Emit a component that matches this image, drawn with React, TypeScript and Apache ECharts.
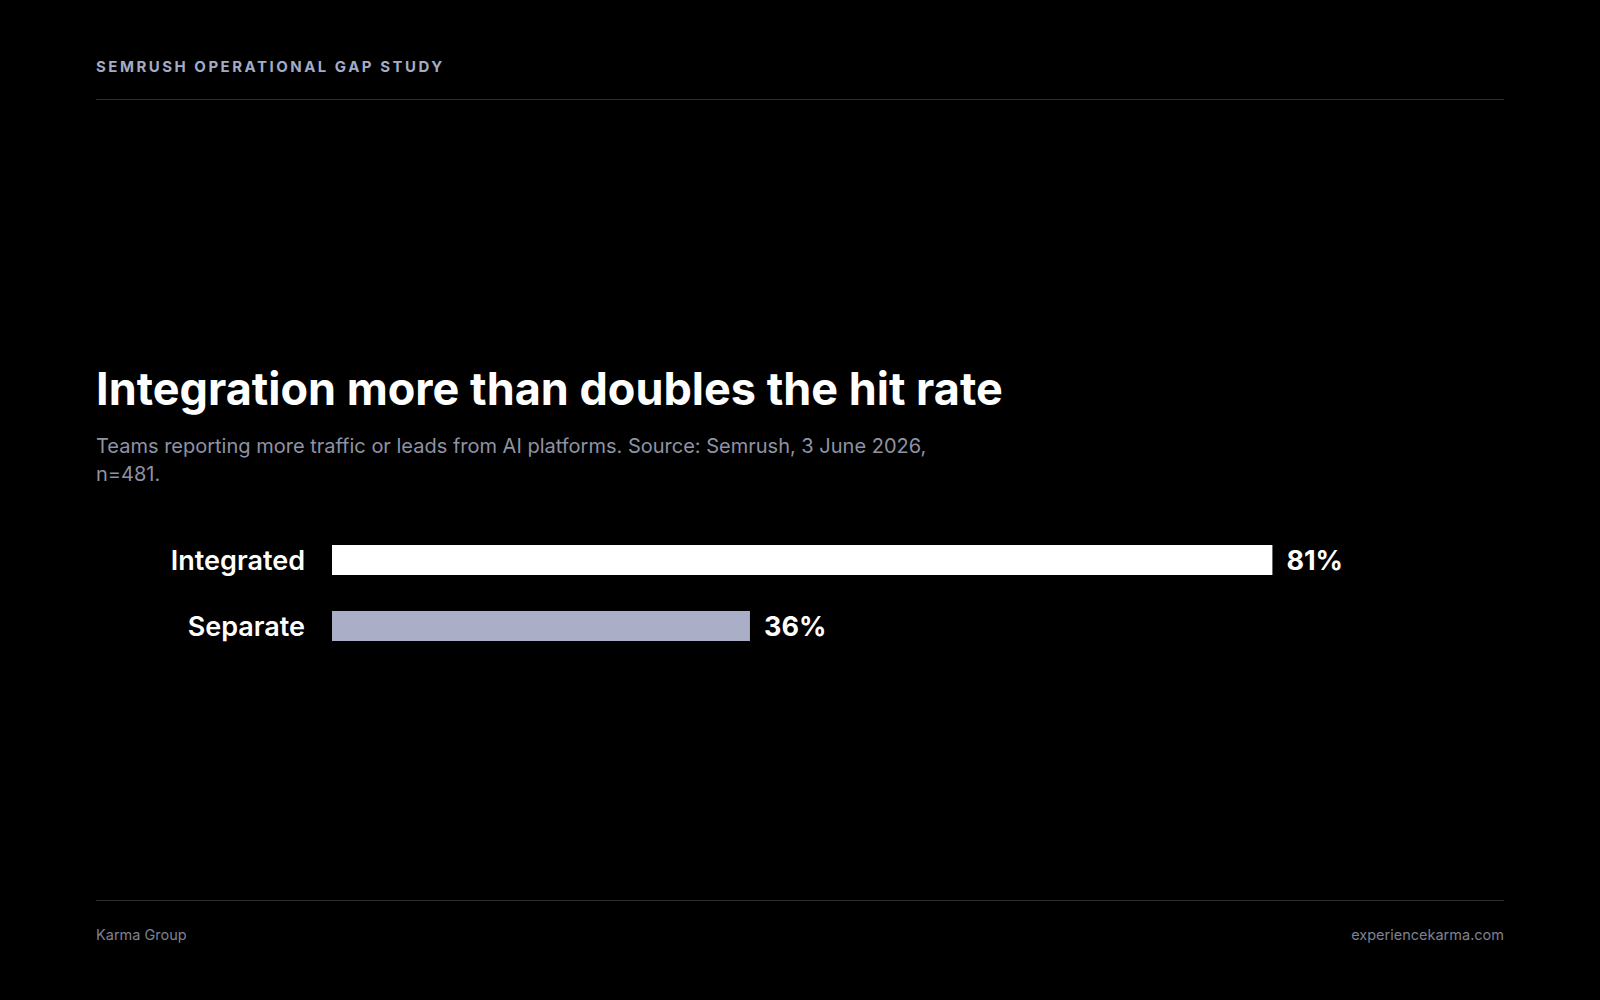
import React, { useEffect, useRef } from "react";
import * as echarts from "echarts";

const categories = ["Integrated", "Separate"];
const values = [81, 36];
const barColors = ["#ffffff", "#aaaec6"];

const headerText = "SEMRUSH OPERATIONAL GAP STUDY";
const titleText = "Integration more than doubles the hit rate";
const subtitleText =
  "Teams reporting more traffic or leads from AI platforms. Source: Semrush, 3 June 2026,\nn=481.";
const footerLeft = "Karma Group";
const footerRight = "experiencekarma.com";

const FONT = "Inter, 'Noto Sans', sans-serif";

export default function App() {
  const ref = useRef<HTMLDivElement>(null);

  useEffect(() => {
    document.body.style.margin = "0";
    document.body.style.background = "#000";
    if (!ref.current) return;
    const chart = echarts.init(ref.current, null, { renderer: "svg" });
    chart.setOption({
      animation: false,
      backgroundColor: "#000000",
      grid: { left: 332, width: 1161, top: 527, height: 132, containLabel: false },
      xAxis: {
        type: "value",
        min: 0,
        max: 100,
        show: false,
      },
      yAxis: {
        type: "category",
        data: categories,
        inverse: true,
        axisLine: { show: false },
        axisTick: { show: false },
        axisLabel: {
          color: "#ffffff",
          fontFamily: FONT,
          fontSize: 27,
          fontWeight: 600,
          margin: 27,
        },
      },
      series: [
        {
          type: "bar",
          barWidth: 30,
          data: values.map((v, i) => ({ value: v, itemStyle: { color: barColors[i] } })),
          label: {
            show: true,
            position: "right",
            distance: 14,
            formatter: "{c}%",
            color: "#ffffff",
            fontFamily: FONT,
            fontSize: 27,
            fontWeight: 700,
          },
        },
      ],
      graphic: [
        {
          type: "text",
          left: 96,
          top: 59,
          silent: true,
          style: {
            text: headerText,
            fill: "#a4abc4",
            font: `700 15px ${FONT}`,
          },
        },
        {
          type: "line",
          shape: { x1: 96, y1: 99.5, x2: 1504, y2: 99.5 },
          style: { stroke: "#2f2f33", lineWidth: 1 },
          silent: true,
        },
        {
          type: "text",
          x: 96,
          y: 388,
          silent: true,
          style: {
            text: titleText,
            fill: "#ffffff",
            font: `700 45px ${FONT}`,
            verticalAlign: "middle",
          },
        },
        {
          type: "text",
          x: 96,
          y: 432,
          silent: true,
          style: {
            text: subtitleText,
            fill: "#8f93a3",
            font: `400 20px ${FONT}`,
            lineHeight: 28,
            verticalAlign: "top",
          },
        },
        {
          type: "line",
          shape: { x1: 96, y1: 900.5, x2: 1504, y2: 900.5 },
          style: { stroke: "#2f2f33", lineWidth: 1 },
          silent: true,
        },
        {
          type: "text",
          x: 96,
          y: 934,
          silent: true,
          style: {
            text: footerLeft,
            fill: "#7e8292",
            font: `400 14.5px ${FONT}`,
            verticalAlign: "middle",
          },
        },
        {
          type: "text",
          x: 1504,
          y: 934,
          silent: true,
          style: {
            text: footerRight,
            fill: "#7e8292",
            font: `400 14.5px ${FONT}`,
            align: "right",
            verticalAlign: "middle",
          },
        },
      ],
    });
    // Apply the header's wide letter spacing on the rendered SVG text
    const applySpacing = () => {
      if (!ref.current) return;
      ref.current.querySelectorAll("text").forEach((t) => {
        if (t.textContent === headerText) {
          (t as SVGTextElement).style.letterSpacing = "2.5px";
        }
      });
    };
    applySpacing();
    chart.on("finished", applySpacing);
    return () => chart.dispose();
  }, []);

  return <div ref={ref} style={{ width: 1600, height: 1000, background: "#000" }} />;
}
